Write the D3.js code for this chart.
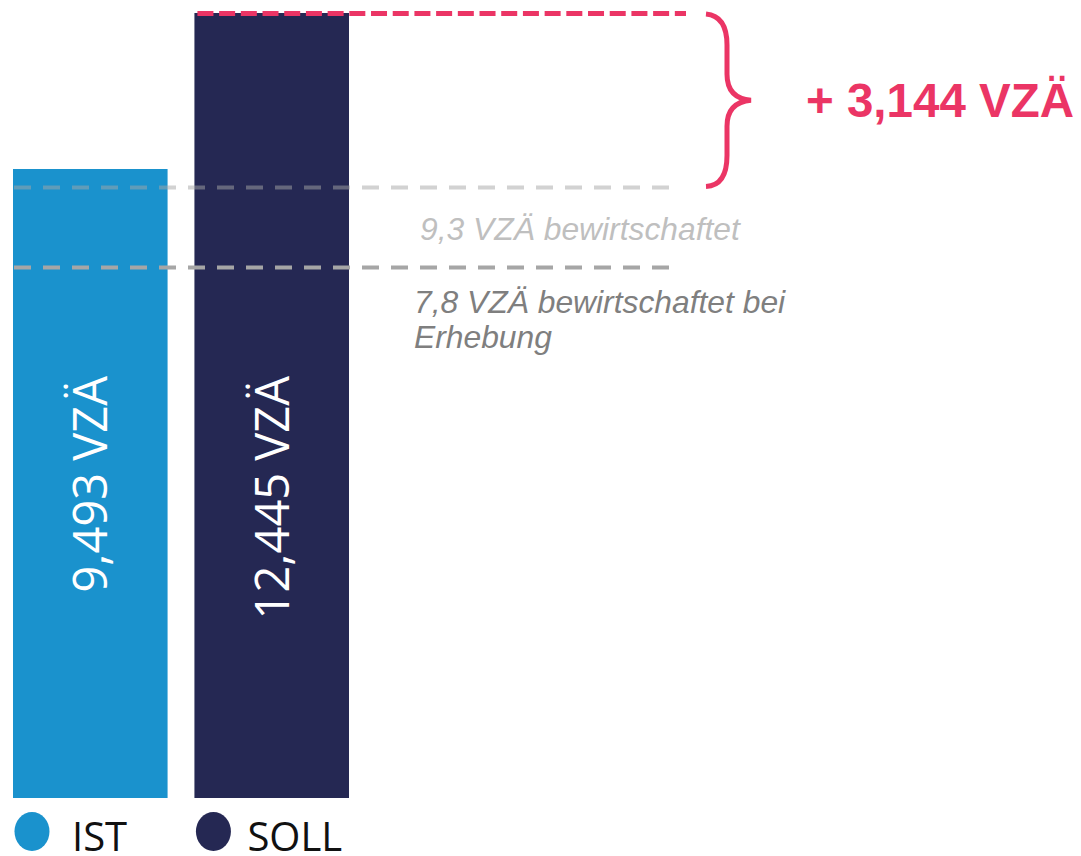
<!DOCTYPE html>
<html>
<head>
<meta charset="utf-8">
<script src="https://cdn.jsdelivr.net/npm/d3@7"></script>
<style>
  html, body { margin: 0; padding: 0; background: #fff; }
  svg { display: block; }
</style>
</head>
<body>
<div id="chart"></div>
<script>
// Data
const categories = ['IST', 'SOLL'];
const values = [9.493, 12.445];
const valueLabels = ['9,493 VZÄ', '12,445 VZÄ'];
const barColors = ['#1a92cd', '#252853'];
const refValues = [9.3, 7.8];
const refLabels = [['9,3 VZÄ bewirtschaftet'], ['7,8 VZÄ bewirtschaftet bei', 'Erhebung']];
const diffLabel = '+ 3,144 VZÄ';

const W = 1081, H = 856;
const baseY = 798;
const pink = '#eb3565';

const svg = d3.select('#chart').append('svg')
  .attr('width', W).attr('height', H)
  .attr('viewBox', `0 0 ${W} ${H}`);

// Scales (the source chart is schematic, not to zero)
const x = d3.scaleBand().domain(categories).range([13, 349]).paddingInner(0.148).paddingOuter(0);
const y = d3.scaleLinear()
  .domain([refValues[1], refValues[0], values[0], values[1]])
  .range([267.5, 187.5, 169, 13]);

// Bars
svg.selectAll('rect.bar').data(categories).join('rect')
  .attr('class', 'bar')
  .attr('x', d => x(d))
  .attr('y', (d, i) => y(values[i]))
  .attr('width', x.bandwidth())
  .attr('height', (d, i) => baseY - y(values[i]))
  .attr('fill', (d, i) => barColors[i]);

// Rotated value labels inside bars
svg.selectAll('text.val').data(categories).join('text')
  .attr('class', 'val')
  .attr('transform', d => `translate(${x(d) + x.bandwidth() / 2},${y(values[0]) + 207}) rotate(-90)`)
  .attr('text-anchor', 'end')
  .attr('dy', '0.36em')
  .attr('fill', '#fff')
  .attr('font-family', 'Open Sans, Noto Sans, sans-serif')
  .attr('font-size', 47)
  .text((d, i) => valueLabels[i]);

// Reference lines
const refX2 = [680, 670];
const refStyle = [
  { stroke: '#a6a6a6', opacity: 0.5, text: '#bfbfbf' },
  { stroke: '#a6a6a6', opacity: 1, text: '#7f7f7f' }
];
refValues.forEach((v, i) => {
  svg.append('line')
    .attr('x1', x('IST') + 1).attr('x2', refX2[i])
    .attr('y1', y(v)).attr('y2', y(v))
    .attr('stroke', refStyle[i].stroke)
    .attr('stroke-opacity', refStyle[i].opacity)
    .attr('stroke-width', 4)
    .attr('stroke-dasharray', '17 12');

  const tx = i === 0 ? 420 : 414;
  const t = svg.append('text')
    .attr('x', tx)
    .attr('y', y(v) + 52 - (i === 1 ? 7 : 0))
    .attr('fill', refStyle[i].text)
    .attr('font-family', 'Liberation Sans, Arial, sans-serif')
    .attr('font-style', 'italic')
    .attr('font-size', 31.8);
  refLabels[i].forEach((line, j) => {
    t.append('tspan')
      .attr('x', tx)
      .attr('dy', j === 0 ? 0 : 35)
      .text(line);
  });
});

// Difference: dashed line from SOLL top + brace + label
const topY = y(values[1]);
const lowY = y(refValues[0]);
svg.append('line')
  .attr('x1', x('SOLL') + 3).attr('x2', 686)
  .attr('y1', topY + 0.5).attr('y2', topY + 0.5)
  .attr('stroke', pink)
  .attr('stroke-width', 5)
  .attr('stroke-dasharray', '16 5.7');

const bx = 706, midY = (topY + lowY) / 2;
svg.append('path')
  .attr('d', `M${bx},${topY + 1} Q${bx + 21},${topY + 3} ${bx + 21},${topY + 32}
    L${bx + 21},${midY - 26} Q${bx + 21},${midY - 2} ${bx + 45},${midY}
    Q${bx + 21},${midY + 2} ${bx + 21},${midY + 26}
    L${bx + 21},${lowY - 32} Q${bx + 21},${lowY - 2} ${bx},${lowY - 1}`)
  .attr('fill', 'none')
  .attr('stroke', pink)
  .attr('stroke-width', 5);

svg.append('text')
  .attr('x', 806).attr('y', midY + 17)
  .attr('fill', pink)
  .attr('font-family', 'Liberation Sans, Arial, sans-serif')
  .attr('font-weight', 'bold')
  .attr('font-size', 47.5)
  .text(diffLabel);

// Legend
const leg = svg.selectAll('g.leg').data(categories).join('g').attr('class', 'leg');
leg.append('ellipse')
  .attr('cx', d => x(d) + 19).attr('cy', 831.5)
  .attr('rx', 17.5).attr('ry', 19.5)
  .attr('fill', (d, i) => barColors[i]);
leg.append('text')
  .attr('x', (d, i) => x(d) + (i === 0 ? 59 : 53))
  .attr('y', 851)
  .attr('fill', '#111')
  .attr('font-family', 'Open Sans, Noto Sans, sans-serif')
  .attr('font-size', 40)
  .text(d => d);
</script>
</body>
</html>
